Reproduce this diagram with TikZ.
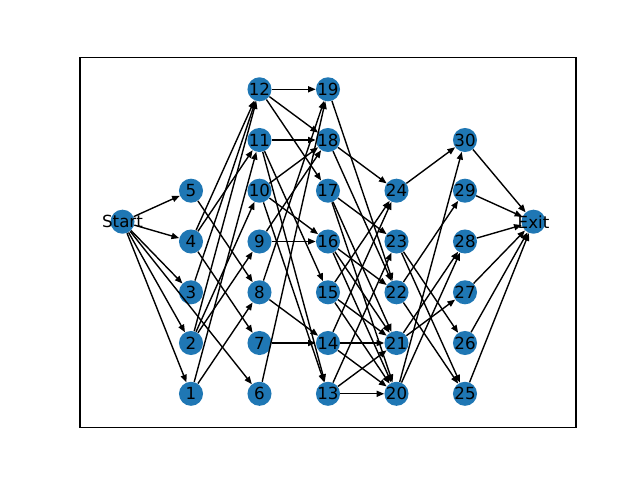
\documentclass[tikz,border=0pt]{standalone}
\usepackage{fontspec}
\setmainfont{DejaVu Sans}
\usetikzlibrary{arrows.meta}
\definecolor{nx}{HTML}{1F77B4}
\begin{document}
\begin{tikzpicture}[x=0.01in,y=-0.01in,
 dot/.style={circle,fill=nx,draw=none,minimum size=17.32bp,inner sep=0pt},
 lbl/.style={font=\fontsize{12bp}{14bp}\selectfont,inner sep=0pt,text=black},
 edge/.style={-{Triangle[length=5.5bp,width=4.4bp]},line width=1bp,black}]
\useasboundingbox (0,0) rectangle (640,480);
\draw[line width=0.8bp] (80,57.6) rectangle (576,427.2);
% nodes
\node[dot] (S) at (122.5,221.7) {};
\node[dot] (n5) at (191,190.7) {};
\node[dot] (n4) at (191,241.5) {};
\node[dot] (n3) at (191,292.3) {};
\node[dot] (n2) at (191,343) {};
\node[dot] (n1) at (191,393.8) {};
\node[dot] (n12) at (259.5,89.3) {};
\node[dot] (n11) at (259.5,140) {};
\node[dot] (n10) at (259.5,190.7) {};
\node[dot] (n9) at (259.5,241.5) {};
\node[dot] (n8) at (259.5,292.3) {};
\node[dot] (n7) at (259.5,343) {};
\node[dot] (n6) at (259.5,393.8) {};
\node[dot] (n19) at (328,89.3) {};
\node[dot] (n18) at (328,140) {};
\node[dot] (n17) at (328,190.7) {};
\node[dot] (n16) at (328,241.5) {};
\node[dot] (n15) at (328,292.3) {};
\node[dot] (n14) at (328,343) {};
\node[dot] (n13) at (328,393.8) {};
\node[dot] (n24) at (396.5,190.7) {};
\node[dot] (n23) at (396.5,241.5) {};
\node[dot] (n22) at (396.5,292.3) {};
\node[dot] (n21) at (396.5,343) {};
\node[dot] (n20) at (396.5,393.8) {};
\node[dot] (n30) at (465,140) {};
\node[dot] (n29) at (465,190.7) {};
\node[dot] (n28) at (465,241.5) {};
\node[dot] (n27) at (465,292.3) {};
\node[dot] (n26) at (465,343) {};
\node[dot] (n25) at (465,393.8) {};
\node[dot] (E) at (533.5,221.7) {};
% edges
\foreach \a/\b in {S/n1,S/n2,S/n3,S/n4,S/n5,S/n6,
 n5/n8,n4/n7,n4/n12,n4/n11,n3/n12,n2/n9,n2/n10,n2/n12,n1/n8,n1/n11,
 n12/n19,n12/n18,n12/n17,n11/n18,n11/n15,n11/n13,n10/n18,n10/n16,n10/n13,
 n9/n16,n9/n18,n8/n19,n8/n14,n7/n14,n6/n19,
 n19/n22,n18/n24,n18/n22,n17/n23,n17/n21,n17/n20,n16/n22,n16/n21,n16/n20,
 n15/n24,n15/n21,n15/n20,n14/n24,n14/n21,n14/n20,n13/n23,n13/n21,n13/n20,
 n24/n30,n23/n26,n23/n25,n22/n29,n22/n25,n21/n28,n21/n27,n20/n30,n20/n28,
 n30/E,n29/E,n28/E,n27/E,n26/E,n25/E}
 \draw[edge] (\a) -- (\b);
% labels
\node[lbl] at (S) {Start};
\node[lbl] at (E) {Exit};
\foreach \k in {1,...,30} \node[lbl] at (n\k) {\k};
\end{tikzpicture}
\end{document}
